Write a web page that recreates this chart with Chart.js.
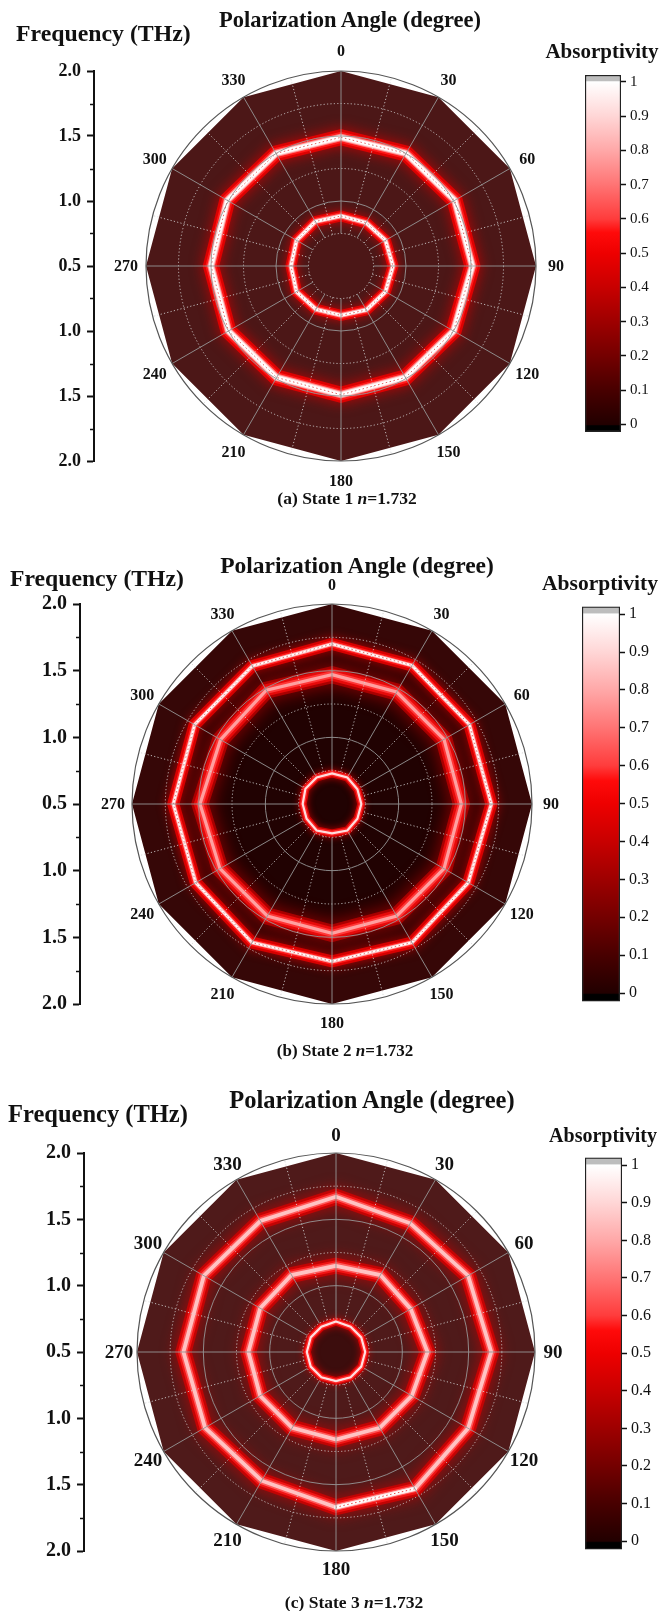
<!DOCTYPE html>
<html>
<head>
<meta charset="utf-8">
<script src="https://cdn.jsdelivr.net/npm/chart.js@4.4.1/dist/chart.umd.min.js"></script>
<style>
  html, body { margin: 0; padding: 0; background: #fff; }
  #page { position: relative; width: 662px; height: 1611px; overflow: hidden;
          font-family: "Liberation Serif", "Times New Roman", serif; color: #111; }
  #page canvas { position: absolute; }
  .txt { position: absolute; white-space: nowrap; font-weight: bold; line-height: 1; }
  .txt.c { transform: translate(-50%, -50%); }
  .txt.l { transform: translate(0, -50%); }
</style>
</head>
<body>
<div id="page"></div>
<script>
// ---- data ------------------------------------------------------------
// polarization angle (degree), clockwise from the top
const angleLabels = ['0', '30', '60', '90', '120', '150', '180', '210', '240', '270', '300', '330'];

// radial frequency range of the polar maps (THz), centre -> rim
const freqMin = 0.5;
const freqMax = 2.0;

// frequency axis beside each map, read top to bottom
const freqAxisLabels = ['2.0', '1.5', '1.0', '0.5', '1.0', '1.5', '2.0'];
const freqAxisValues = [2.0, 1.5, 1.0, 0.5, 1.0, 1.5, 2.0];
const freqMinorValues = [1.75, 1.25, 0.75, 0.75, 1.25, 1.75];

// polar grid (THz)
const gridSolid = [1.0, 1.5];
const gridDotted = [0.75, 1.25, 1.75];
const spokeFrom = 0.75;

// edge of the computed region (THz at each angle)
const rim = [2.0, 2.0, 2.0, 2.0, 2.0, 2.0, 2.0, 2.0, 2.0, 2.0, 2.0, 2.0];

// absorption peaks (THz) at each polarization angle
const stateA_inner = [0.885, 0.885, 0.895, 0.90, 0.895, 0.89, 0.88, 0.885, 0.895, 0.885, 0.895, 0.895];
const stateA_outer = [1.49, 1.50, 1.51, 1.51, 1.50, 1.49, 1.49, 1.49, 1.50, 1.50, 1.51, 1.50];

const stateB_inner = [0.73, 0.73, 0.72, 0.72, 0.72, 0.73, 0.72, 0.73, 0.72, 0.72, 0.73, 0.73];
const stateB_mid   = [1.47, 1.47, 1.47, 1.47, 1.47, 1.47, 1.47, 1.47, 1.47, 1.49, 1.465, 1.485];
const stateB_outer = [1.70, 1.70, 1.69, 1.695, 1.68, 1.70, 1.68, 1.70, 1.68, 1.69, 1.69, 1.695];

const stateC_inner = [0.73, 0.72, 0.72, 0.72, 0.72, 0.72, 0.72, 0.72, 0.72, 0.72, 0.72, 0.72];
const stateC_mid   = [1.15, 1.17, 1.15, 1.19, 1.16, 1.16, 1.16, 1.16, 1.16, 1.16, 1.16, 1.17];
const stateC_outer = [1.67, 1.62, 1.65, 1.67, 1.65, 1.69, 1.67, 1.62, 1.64, 1.65, 1.65, 1.64];
// stretch of the outer state-3 peak that reaches full absorption (150°-180°)
const stateC_outerPeak = [null, null, null, null, null, 1.69, 1.67, null, null, null, null, null];

// absorptivity colour bar
const absRange = [-0.022, 1.02];
const absTicks = [0, 0.1, 0.2, 0.3, 0.4, 0.5, 0.6, 0.7, 0.8, 0.9, 1.0];
const absTickLabels = ['0', '0.1', '0.2', '0.3', '0.4', '0.5', '0.6', '0.7', '0.8', '0.9', '1'];
const cmapValues = [0, 0.1, 0.2, 0.3, 0.4, 0.5, 0.56, 0.6, 0.7, 0.8, 0.9, 1.0];
const cmapColors = ['#220000', '#480000', '#740000', '#9e0000', '#c80000', '#ee0000', '#ff0a0a',
                    '#ff3c3c', '#ff7474', '#ffa8a8', '#ffd6d6', '#ffffff'];

// ---- line styles for the absorption rings: [width, colour, blur] from halo to core ----
const ringWhiteWide = [[16, 'rgba(235,0,0,0.85)', 14], [11, 'rgb(255,25,25)'], [7.5, 'rgb(255,130,130)'],
                       [5.5, 'rgb(255,222,222)'], [3.5, '#ffffff']];
const ringWhiteSmall = [[11, 'rgba(235,0,0,0.85)', 10], [7.5, 'rgb(255,30,30)'], [4.8, 'rgb(255,160,160)'],
                        [2.8, '#ffffff']];
const ringWhiteThin = [[12, 'rgba(230,0,0,0.85)', 11], [7, 'rgb(255,25,25)'], [4, 'rgb(255,170,170)'],
                       [2, '#ffffff']];
const ringRedWide = [[17, 'rgba(200,0,0,0.7)', 18], [12, 'rgb(230,10,10)'], [7, 'rgb(255,55,55)'],
                     [3.2, 'rgb(255,160,160)']];
const ringRedPink = [[16, 'rgba(215,0,0,0.75)', 15], [11, 'rgb(240,20,20)'], [7, 'rgb(255,90,90)'],
                     [3.8, 'rgb(255,195,195)']];
const ringInner = [[8, 'rgba(230,0,0,0.8)', 7], [5, 'rgb(255,40,40)'], [2.2, 'rgb(255,220,220)']];
const ringPeak = [[4.5, 'rgb(255,225,225)'], [2.5, '#ffffff']];

const FONT = '"Liberation Serif", "Times New Roman", serif';

// ---- panel layout ---------------------------------------------------------
const panels = [
  {
    cx: 341, cy: 266, R: 195, labelR: 215, angleFont: 16,
    axisX: 94, axisFont: 18,
    cb: { l: 585, r: 621, t: 72, b: 435 }, cbFont: 15,
    fills: [[rim, '#4c1717']],
    rings: [[stateA_outer, ringWhiteWide, 'rgba(210,0,0,0.6)'], [stateA_inner, ringWhiteSmall, 'rgba(210,0,0,0.6)']],
    texts: [
      ['Frequency (THz)', 16, 34, 23.8, 'l'],
      ['Polarization Angle (degree)', 350, 20, 22.5, 'c'],
      ['Absorptivity', 602, 51, 21, 'c'],
      ['(a) State 1 <i>n</i>=1.732', 347, 499, 17.5, 'c']
    ]
  },
  {
    cx: 332, cy: 804, R: 200, labelR: 219, angleFont: 16,
    axisX: 80, axisFont: 20,
    cb: { l: 582, r: 620, t: 603, b: 1005 }, cbFont: 16,
    fills: [[rim, '#360707'], [stateB_outer, '#2a0404'], [stateB_mid, '#210202']],
    rings: [[stateB_outer, ringWhiteThin, 'rgba(210,0,0,0.55)'], [stateB_mid, ringRedWide, null],
            [stateB_inner, ringInner, null]],
    texts: [
      ['Frequency (THz)', 10, 579, 23.7, 'l'],
      ['Polarization Angle (degree)', 357, 566, 23.5, 'c'],
      ['Absorptivity', 600, 584, 21.5, 'c'],
      ['(b) State 2 <i>n</i>=1.732', 345, 1050, 17, 'c']
    ]
  },
  {
    cx: 336, cy: 1352, R: 199, labelR: 217, angleFont: 19,
    axisX: 84, axisFont: 20,
    cb: { l: 585, r: 622, t: 1154, b: 1553 }, cbFont: 16,
    fills: [[rim, '#4f1a1a'], [stateC_inner, '#3c0d0d']],
    rings: [[stateC_outer, ringRedPink, null], [stateC_mid, ringRedPink, null],
            [stateC_outerPeak, ringPeak, 'rgba(220,0,0,0.7)'],
            [stateC_inner, ringInner, 'rgba(255,235,235,0.9)']],
    texts: [
      ['Frequency (THz)', 8, 1114, 24.5, 'l'],
      ['Polarization Angle (degree)', 372, 1100, 24.5, 'c'],
      ['Absorptivity', 603, 1135, 20, 'c'],
      ['(c) State 3 <i>n</i>=1.732', 354, 1603, 17.5, 'c']
    ]
  }
];

const page = document.getElementById('page');

function makeCanvas(left, top, w, h) {
  const cv = document.createElement('canvas');
  cv.width = w; cv.height = h;
  cv.style.left = left + 'px'; cv.style.top = top + 'px';
  cv.style.width = w + 'px'; cv.style.height = h + 'px';
  page.appendChild(cv);
  return cv;
}

function addText(html, x, y, size, align) {
  const d = document.createElement('div');
  d.className = 'txt ' + align;
  d.innerHTML = html;
  d.style.left = x + 'px'; d.style.top = y + 'px';
  d.style.fontSize = size + 'px';
  page.appendChild(d);
}

// soft red halo around the widest stroke of each ring
const ringGlow = {
  id: 'ringGlow',
  beforeDatasetDraw(chart, args) {
    const ds = chart.data.datasets[args.index];
    if (!ds.glowBlur) return;
    chart.ctx.save();
    chart.ctx.shadowBlur = ds.glowBlur;
    chart.ctx.shadowColor = 'rgba(210,0,0,0.95)';
  },
  afterDatasetDraw(chart, args) {
    const ds = chart.data.datasets[args.index];
    if (ds.glowBlur) chart.ctx.restore();
  }
};

// grid, rim circle and angle labels drawn over the map
const polarDecor = {
  id: 'polarDecor',
  afterDatasetsDraw(chart, args, opts) {
    const s = chart.scales.r;
    const ctx = chart.ctx;
    const cx = s.xCenter, cy = s.yCenter;
    const dotted = [1.2, 2.2];
    const solidCol = 'rgba(150,150,150,0.9)';
    const dotCol = 'rgba(210,210,210,0.85)';
    ctx.save();
    ctx.lineWidth = 1;
    gridDotted.forEach(v => {
      ctx.setLineDash(dotted); ctx.strokeStyle = dotCol;
      ctx.beginPath(); ctx.arc(cx, cy, s.getDistanceFromCenterForValue(v), 0, Math.PI * 2); ctx.stroke();
    });
    gridSolid.forEach(v => {
      ctx.setLineDash([]); ctx.strokeStyle = solidCol;
      ctx.beginPath(); ctx.arc(cx, cy, s.getDistanceFromCenterForValue(v), 0, Math.PI * 2); ctx.stroke();
    });
    const n = chart.data.labels.length;
    const r0 = s.getDistanceFromCenterForValue(spokeFrom);
    const r1 = s.getDistanceFromCenterForValue(freqMax);
    for (let k = 0; k < 2 * n; k++) {
      const major = k % 2 === 0;
      const a = s.getPointPosition(k / 2, r0);
      const b = s.getPointPosition(k / 2, r1);
      ctx.setLineDash(major ? [] : dotted);
      ctx.strokeStyle = major ? solidCol : dotCol;
      ctx.beginPath(); ctx.moveTo(a.x, a.y); ctx.lineTo(b.x, b.y); ctx.stroke();
    }
    ctx.setLineDash([]);
    ctx.strokeStyle = '#555';
    ctx.lineWidth = 1.2;
    ctx.beginPath(); ctx.arc(cx, cy, r1, 0, Math.PI * 2); ctx.stroke();

    ctx.fillStyle = '#111';
    ctx.font = 'bold ' + opts.fontSize + 'px ' + FONT;
    ctx.textAlign = 'center';
    ctx.textBaseline = 'middle';
    chart.data.labels.forEach((lab, i) => {
      const p = s.getPointPosition(i, opts.labelRadius);
      ctx.fillText(lab, p.x, p.y + 1);
    });
    ctx.restore();
  }
};

// short unlabelled ticks between the frequency labels
const minorTicks = {
  id: 'minorTicks',
  afterDraw(chart) {
    const y = chart.scales.y;
    const ctx = chart.ctx;
    const half = freqMinorValues.length / 2;
    ctx.save();
    ctx.strokeStyle = '#111';
    ctx.lineWidth = 1.5;
    freqMinorValues.forEach((f, i) => {
      const side = i < half ? 1 : -1;
      const py = Math.round(y.getPixelForValue(side * (f - freqMin))) + 0.5;
      ctx.beginPath(); ctx.moveTo(y.right - 4, py); ctx.lineTo(y.right, py); ctx.stroke();
    });
    ctx.restore();
  }
};

function ringDatasets(values, layers, speckleColor, order0) {
  const sets = layers.map(([w, c, blur], j) => ({
    data: values, borderColor: c, borderWidth: w, fill: false, spanGaps: false,
    pointRadius: 0, borderJoinStyle: 'miter', borderCapStyle: 'round',
    order: order0 - j, glowBlur: blur || 0
  }));
  if (speckleColor) {
    sets.push({
      data: values, borderColor: speckleColor, borderWidth: 1, borderDash: [1.5, 2.5],
      fill: false, spanGaps: false, pointRadius: 0, order: order0 - layers.length
    });
  }
  return sets;
}

function cmapFill(c) {
  const ch = c.chart;
  const y = ch.scales.y;
  if (!ch.chartArea || !y) return cmapColors[0];
  const bot = y.getPixelForValue(absRange[0]);
  const top = y.getPixelForValue(absRange[1]);
  const g = ch.ctx.createLinearGradient(0, bot, 0, top);
  const pos = v => Math.min(1, Math.max(0, (y.getPixelForValue(v) - bot) / (top - bot)));
  g.addColorStop(0, '#000000');
  g.addColorStop(pos(-0.004), '#000000');
  cmapValues.forEach((v, i) => g.addColorStop(pos(v), cmapColors[i]));
  g.addColorStop(pos(1.004), '#bdbdbd');
  g.addColorStop(1, '#bdbdbd');
  return g;
}

panels.forEach(p => {
  // polar absorption map
  const pad = 46;
  const size = 2 * (p.R + pad);
  const cvR = makeCanvas(p.cx - p.R - pad, p.cy - p.R - pad, size, size);
  const datasets = [];
  p.fills.forEach(([vals, col], i) => datasets.push({
    data: vals, fill: 'start', backgroundColor: col, borderColor: 'rgba(0,0,0,0)',
    borderWidth: 0, pointRadius: 0, order: 1000 - i
  }));
  p.rings.forEach(([vals, layers, speckle], i) => {
    ringDatasets(vals, layers, speckle, 500 - i * 20).forEach(d => datasets.push(d));
  });
  new Chart(cvR, {
    type: 'radar',
    data: { labels: angleLabels, datasets },
    options: {
      responsive: false, animation: false, devicePixelRatio: 1,
      layout: { padding: pad },
      elements: { line: { tension: 0 } },
      plugins: {
        legend: { display: false }, tooltip: { enabled: false },
        polarDecor: { fontSize: p.angleFont, labelRadius: p.labelR }
      },
      scales: {
        r: {
          min: freqMin, max: freqMax, startAngle: 0,
          ticks: { display: false },
          grid: { display: false },
          angleLines: { display: false },
          pointLabels: { display: false }
        }
      }
    },
    plugins: [ringGlow, polarDecor]
  });

  // frequency axis
  const padV = 20;
  const cvA = makeCanvas(0, p.cy - p.R - padV, p.axisX + 6, 2 * (p.R + padV));
  const mid = (freqAxisValues.length - 1) / 2;
  new Chart(cvA, {
    type: 'scatter',
    data: { datasets: [] },
    options: {
      responsive: false, animation: false, devicePixelRatio: 1,
      layout: { padding: { top: padV, bottom: padV, left: 0, right: 0 } },
      plugins: { legend: { display: false }, tooltip: { enabled: false } },
      scales: {
        x: { display: false, min: 0, max: 1 },
        y: {
          min: -(freqMax - freqMin), max: freqMax - freqMin,
          afterBuildTicks: sc => {
            sc.ticks = freqAxisValues.map((f, i) => ({ value: Math.sign(mid - i) * (f - freqMin) }));
          },
          afterFit: sc => { sc.width = p.axisX; },
          ticks: {
            autoSkip: false, padding: 6, color: '#111',
            font: { family: FONT, size: p.axisFont, weight: 'bold' },
            callback: (v, i) => freqAxisLabels[i]
          },
          grid: { drawOnChartArea: false, tickLength: 7, tickWidth: 2, tickColor: '#111' },
          border: { color: '#111', width: 2 }
        }
      }
    },
    plugins: [minorTicks]
  });

  // absorptivity colour bar
  const cbW = p.cb.r - p.cb.l;
  const axW = 42;
  const cvC = makeCanvas(p.cb.l - 2, p.cb.t - 10, 2 + cbW + axW, p.cb.b - p.cb.t + 20);
  new Chart(cvC, {
    type: 'bar',
    data: {
      labels: [''],
      datasets: [{
        data: [absRange], backgroundColor: cmapFill, borderColor: '#222', borderWidth: 1.5,
        borderSkipped: false, barPercentage: 1, categoryPercentage: 1
      }]
    },
    options: {
      responsive: false, animation: false, devicePixelRatio: 1,
      layout: { padding: { top: 10, bottom: 10, left: 2, right: 0 } },
      plugins: { legend: { display: false }, tooltip: { enabled: false } },
      scales: {
        x: { display: false },
        y: {
          position: 'right', min: absRange[0], max: absRange[1],
          afterBuildTicks: sc => { sc.ticks = absTicks.map(v => ({ value: v })); },
          afterFit: sc => { sc.width = axW; },
          ticks: {
            autoSkip: false, padding: 4, color: '#111',
            font: { family: FONT, size: p.cbFont },
            callback: (v, i) => absTickLabels[i]
          },
          grid: { drawOnChartArea: false, tickLength: 5, tickWidth: 1.5, tickColor: '#111' },
          border: { display: false }
        }
      }
    }
  });

  p.texts.forEach(([html, x, y, size, align]) => addText(html, x, y, size, align));
});
</script>
</body>
</html>
